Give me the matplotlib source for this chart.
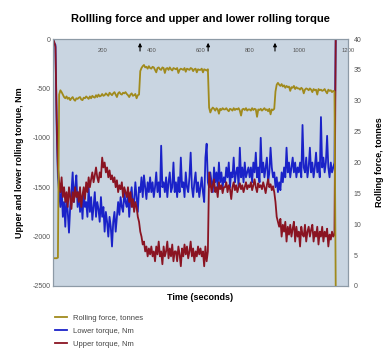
import matplotlib
matplotlib.use('Agg')
import matplotlib.pyplot as plt

plt.rcParams['font.family'] = ['Liberation Sans', 'DejaVu Sans']
plt.rcParams['axes.unicode_minus'] = False

# time grid, seconds (one reading every 5 s)
time_s = list(range(0, 1155, 5))

rolling_force = [
    4.5, 4.5, 4.5, 4.5, 4.6, 31.0, 31.7, 31.4, 31.0, 30.6, 30.4, 30.7, 30.3, 30.5, 30.1, 30.4, 30.6, 30.2, 30.0, 30.4,
    30.3, 30.5, 30.6, 30.2, 30.1, 30.5, 30.4, 30.7, 30.5, 30.3, 30.7, 30.4, 30.8, 30.6, 30.5, 30.9, 30.6, 31.0, 30.7, 30.8,
    31.1, 30.8, 30.9, 31.2, 31.0, 30.8, 31.3, 31.1, 30.9, 31.2, 31.4, 31.0, 30.6, 31.2, 31.4, 31.1, 31.0, 31.3, 31.2, 31.4,
    31.1, 30.9, 30.6, 31.0, 31.2, 30.8, 30.9, 31.1, 30.4, 30.9, 31.0, 34.8, 35.3, 35.6, 35.8, 35.4, 35.5, 35.2, 35.6, 35.3,
    35.2, 35.5, 35.4, 35.0, 34.6, 35.3, 35.4, 35.1, 35.0, 35.4, 35.3, 34.5, 35.2, 35.3, 35.0, 35.4, 35.1, 34.9, 35.3, 35.2,
    35.1, 35.3, 34.5, 35.0, 35.2, 35.1, 35.0, 35.3, 34.7, 35.2, 35.1, 35.0, 35.3, 35.2, 34.8, 35.1, 35.2, 34.6, 35.1, 35.0,
    35.0, 35.2, 34.6, 35.1, 35.0, 34.9, 35.1, 28.9, 28.1, 28.6, 28.9, 28.7, 28.4, 28.8, 28.6, 27.9, 28.7, 28.5, 28.8, 28.6,
    28.6, 28.8, 28.5, 28.3, 28.7, 28.6, 28.4, 28.8, 28.5, 28.7, 28.6, 28.8, 28.4, 27.6, 28.6, 28.7, 28.5, 28.8, 28.4, 28.6,
    28.6, 28.4, 28.8, 28.5, 28.7, 28.6, 27.4, 28.6, 28.5, 28.7, 28.4, 28.6, 28.8, 28.5, 28.6, 28.3, 28.7, 27.8, 28.6, 28.5,
    28.7, 31.5, 32.6, 32.9, 32.6, 32.4, 32.7, 32.3, 32.5, 32.1, 32.4, 32.2, 32.3, 31.6, 32.2, 32.1, 32.4, 31.9, 32.2, 32.0,
    32.0, 31.8, 32.1, 31.9, 31.2, 31.8, 32.0, 31.9, 31.7, 32.0, 31.8, 31.4, 31.9, 31.7, 31.8, 31.0, 31.9, 31.7, 31.8, 31.6,
    31.7, 31.9, 31.5, 31.2, 31.8, 31.6, 31.7, 31.4, 31.6, 31.5, 0.0,
]

lower_torque = [
    0, -40, -60, -900, -1400, -1550, -1700, -1500, -1800, -1650, -1900, -1600, -1750, -1960, -1700, -1550, -1350, -1650, -1500, -1380,
    -1700, -1550, -1750, -1600, -1820, -1550, -1700, -1650, -1800, -1500, -1750, -1600, -1830, -1700, -1550, -1800, -1650, -1720, -1850, -1600,
    -1800, -1700, -1950, -1750, -1850, -2000, -1800, -1900, -2100, -1850, -1750, -1950, -1800, -1650, -1780, -1600, -1700, -1750, -1550, -1650,
    -1700, -1550, -1800, -1600, -1500, -1700, -1650, -1450, -1600, -1750, -1500, -1550, -1400, -1600, -1380, -1500, -1620, -1450, -1550, -1400,
    -1550, -1450, -1600, -1500, -1350, -1550, -1450, -1600, -1080, -1500, -1450, -1550, -1400, -1600, -1450, -1350, -1550, -1500, -1250, -1550,
    -1450, -1600, -1400, -1550, -1200, -1500, -1450, -1600, -1350, -1500, -1550, -1400, -1150, -1500, -1600, -1450, -1350, -1550, -1450, -1600,
    -1500, -1400, -1550, -1650, -1200, -1060, -1450, -1500, -1350, -1450, -1550, -1300, -1450, -1350, -1500, -1250, -1450, -1350, -1500, -1400,
    -1450, -1300, -1400, -1250, -1500, -1350, -1400, -1200, -1450, -1350, -1300, -1500, -1100, -1400, -1300, -1450, -1250, -1400, -1350, -1300,
    -1400, -1300, -1450, -1250, -1350, -1150, -1400, -1300, -1450, -1000, -1350, -1250, -1400, -1300, -1200, -1450, -1350, -1100, -1300, -1400,
    -1350, -1500, -1400, -1550, -1450, -1530, -1350, -1450, -1300, -1400, -1100, -1350, -1250, -1400, -1300, -1200, -1350, -1250, -1400, -1300,
    -1350, -1250, -1400, -870, -1300, -1350, -1200, -1400, -1300, -1100, -1350, -1250, -1400, -1300, -1150, -1350, -1250, -1400, -790, -1300,
    -1200, -1350, -1250, -980, -1300, -1400, -1250, -1350, -1300, -1250, 0,
]

upper_torque = [
    0, -30, -80, -800, -1300, -1450, -1550, -1400, -1600, -1500, -1650, -1550, -1700, -1500, -1600, -1720, -1550, -1650, -1500, -1600,
    -1550, -1650, -1500, -1700, -1580, -1500, -1620, -1450, -1550, -1400, -1500, -1420, -1350, -1450, -1380, -1300, -1400, -1450, -1350, -1400,
    -1200, -1300, -1250, -1350, -1300, -1400, -1330, -1420, -1380, -1450, -1400, -1500, -1430, -1550, -1480, -1520, -1450, -1600, -1500, -1550,
    -1600, -1500, -1650, -1550, -1700, -1620, -1750, -1650, -1700, -1800, -1850, -1950, -2000, -2080, -2050, -2150, -2100, -2200, -2120, -2180,
    -2100, -2200, -2150, -2250, -2100, -2180, -2050, -2200, -2150, -2280, -2100, -2200, -2150, -2050, -2220, -2120, -2200, -2080, -2250, -2150,
    -2150, -2250, -2100, -2180, -2300, -2120, -2200, -2080, -2180, -2100, -2220, -2150, -2050, -2200, -2120, -2250, -2150, -2200, -2100, -2180,
    -2120, -2200, -2150, -2300, -2100, -2250, -2150, -1350, -1450, -1550, -1480, -1420, -1550, -1500, -1600, -1450, -1520, -1480, -1560, -1500,
    -1500, -1450, -1550, -1480, -1520, -1620, -1500, -1450, -1530, -1480, -1550, -1500, -1460, -1520, -1480, -1550, -1500, -1450, -1520, -1480,
    -1500, -1450, -1530, -1480, -1420, -1500, -1550, -1460, -1500, -1480, -1520, -1450, -1500, -1560, -1480, -1420, -1500, -1470, -1530, -1490,
    -1550, -1650, -1800, -1850, -1900, -1820, -2000, -1880, -1950, -1850, -2050, -1900, -1980, -1880, -2000, -1920, -1850, -2050, -1900, -2000,
    -1950, -2100, -1900, -1980, -2000, -1880, -2050, -1950, -1900, -2000, -1930, -1880, -2050, -1950, -2000, -1900, -2080, -1950, -2000, -1900,
    -2050, -1950, -2000, -1920, -2100, -1980, -2030, -1950, -2000, -1980, 0,
]

# times of the step changes marked with arrows
step_times = [354, 631, 903]

x_ticks = [200, 400, 600, 800, 1000, 1200]
left_ticks = [0, -500, -1000, -1500, -2000, -2500]
right_ticks = [0, 5, 10, 15, 20, 25, 30, 35, 40]

gold = '#a08a1c'
blue = '#1a22c8'
red = '#8a1422'
tick_grey = '#555555'

fig = plt.figure(figsize=(3.88, 3.54), dpi=100)
ax = fig.add_axes([0.1366, 0.1921, 0.7603, 0.6977])
ax2 = ax.twinx()

ax.set_facecolor('#c9d5e1')
ax2.patch.set_visible(False)

l_low, = ax.plot(time_s, lower_torque, color=blue, lw=1.3)
l_up, = ax.plot(time_s, upper_torque, color=red, lw=1.3)
l_force, = ax2.plot(time_s, rolling_force, color=gold, lw=1.3)

ax.set_xlim(0, 1200)
ax.set_ylim(-2500, 0)
ax2.set_ylim(0, 40)

ax.set_xticks(x_ticks)
ax.set_yticks(left_ticks)
ax2.set_yticks(right_ticks)

ax.xaxis.set_ticks_position('top')
ax.tick_params(axis='x', length=0, pad=-10, labelsize=4.2, labelcolor=tick_grey,
               labeltop=True, labelbottom=False)
ax.tick_params(axis='y', length=0, pad=2, labelsize=5, labelcolor=tick_grey)
ax2.tick_params(axis='y', length=0, pad=4, labelsize=5, labelcolor=tick_grey)

for a in (ax, ax2):
    for s in a.spines.values():
        s.set_color('#8d9aa6')
        s.set_linewidth(0.8)

for t in step_times:
    ax.annotate('', xy=(t, -10), xytext=(t, -150),
                arrowprops=dict(arrowstyle='-|>', color='black', lw=0.8,
                                mutation_scale=5))

ax.set_title('Rollling force and upper and lower rolling torque',
             fontsize=8, fontweight='bold', pad=12)
ax.set_xlabel('Time (seconds)', fontsize=6.5, fontweight='bold', labelpad=5)
ax.set_ylabel('Upper and lower rolling torque, Nm', fontsize=6.5,
              fontweight='bold', labelpad=6)
ax2.set_ylabel('Rolling force, tonnes', fontsize=6.5, fontweight='bold',
               labelpad=10)

fig.legend([l_force, l_low, l_up],
           ['Rolling force, tonnes', 'Lower torque, Nm', 'Upper torque, Nm'],
           loc='upper left', bbox_to_anchor=(0.142, 0.112), frameon=False,
           fontsize=5.5, labelcolor='#444444', handlelength=1.6,
           handletextpad=0.7, labelspacing=0.75, borderaxespad=0, borderpad=0)

fig.savefig('out.png', dpi=100)
